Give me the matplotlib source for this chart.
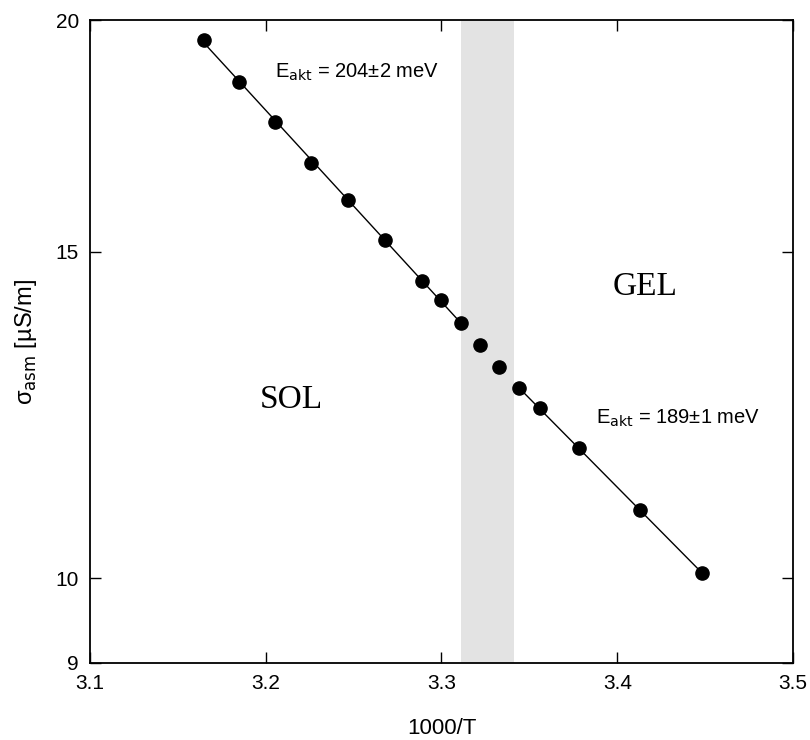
import numpy as np
import matplotlib
matplotlib.use("Agg")
import matplotlib.pyplot as plt

# 1000/T and conductivity (uS/m)
inv_t = [3.165, 3.185, 3.205, 3.226, 3.247, 3.268, 3.289, 3.300,
         3.311, 3.322, 3.333, 3.344, 3.356, 3.378, 3.413, 3.448]
sigma = [19.51, 18.52, 17.62, 16.74, 16.00, 15.22, 14.46, 14.12,
         13.73, 13.36, 13.00, 12.66, 12.35, 11.75, 10.88, 10.07]

# fit ranges (indices) and transition band
sol_idx = (0, 9)
gel_idx = (11, 16)
band = [3.311, 3.341]

plt.rcParams['font.family'] = ['Liberation Sans', 'DejaVu Sans']

fig = plt.figure(figsize=(8.1, 7.4), dpi=100)
ax = fig.add_axes([90/810, 1 - 663/740, 703/810, 643/740])

ax.axvspan(band[0], band[1], color='#e3e3e3', lw=0, zorder=0)

x = np.array(inv_t)
y = np.array(sigma)
for a, b in (sol_idx, gel_idx):
    p = np.polyfit(x[a:b], np.log(y[a:b]), 1)
    xx = np.array([x[a], x[b - 1]])
    ax.plot(xx, np.exp(np.polyval(p, xx)), color='black', lw=1, zorder=2)

ax.plot(x, y, 'o', color='black', ms=9.5, zorder=3)

ax.set_yscale('log')
ax.set_xlim(3.1, 3.5)
ax.set_ylim(9, 20)
ax.set_xticks([3.1, 3.2, 3.3, 3.4, 3.5])
ax.set_xticklabels(['3.1', '3.2', '3.3', '3.4', '3.5'])
ax.set_yticks([9, 10, 15, 20])
ax.set_yticklabels(['9', '10', '15', '20'])
ax.yaxis.set_minor_locator(matplotlib.ticker.NullLocator())
ax.tick_params(direction='in', length=8, width=1, labelsize=15,
               top=True, right=True, pad=8)
for s in ax.spines.values():
    s.set_linewidth(1.3)

ax.set_xlabel('1000/T', fontsize=16, labelpad=18)
ax.set_ylabel('σ$_{\\mathrm{asm}}$ [µS/m]', fontsize=17, labelpad=12)

ax.text(0.38, 0.919, r'E$_{\mathrm{akt}}$ = 204±2 meV', transform=ax.transAxes,
        fontsize=14.5, ha='center', va='center')
ax.text(0.837, 0.381, r'E$_{\mathrm{akt}}$ = 189±1 meV', transform=ax.transAxes,
        fontsize=14.5, ha='center', va='center')
ax.text(0.287, 0.41, 'SOL', transform=ax.transAxes, fontsize=24,
        family='Liberation Serif', ha='center', va='center')
ax.text(0.79, 0.585, 'GEL', transform=ax.transAxes, fontsize=24,
        family='Liberation Serif', ha='center', va='center')

fig.savefig('out.png', dpi=100)
